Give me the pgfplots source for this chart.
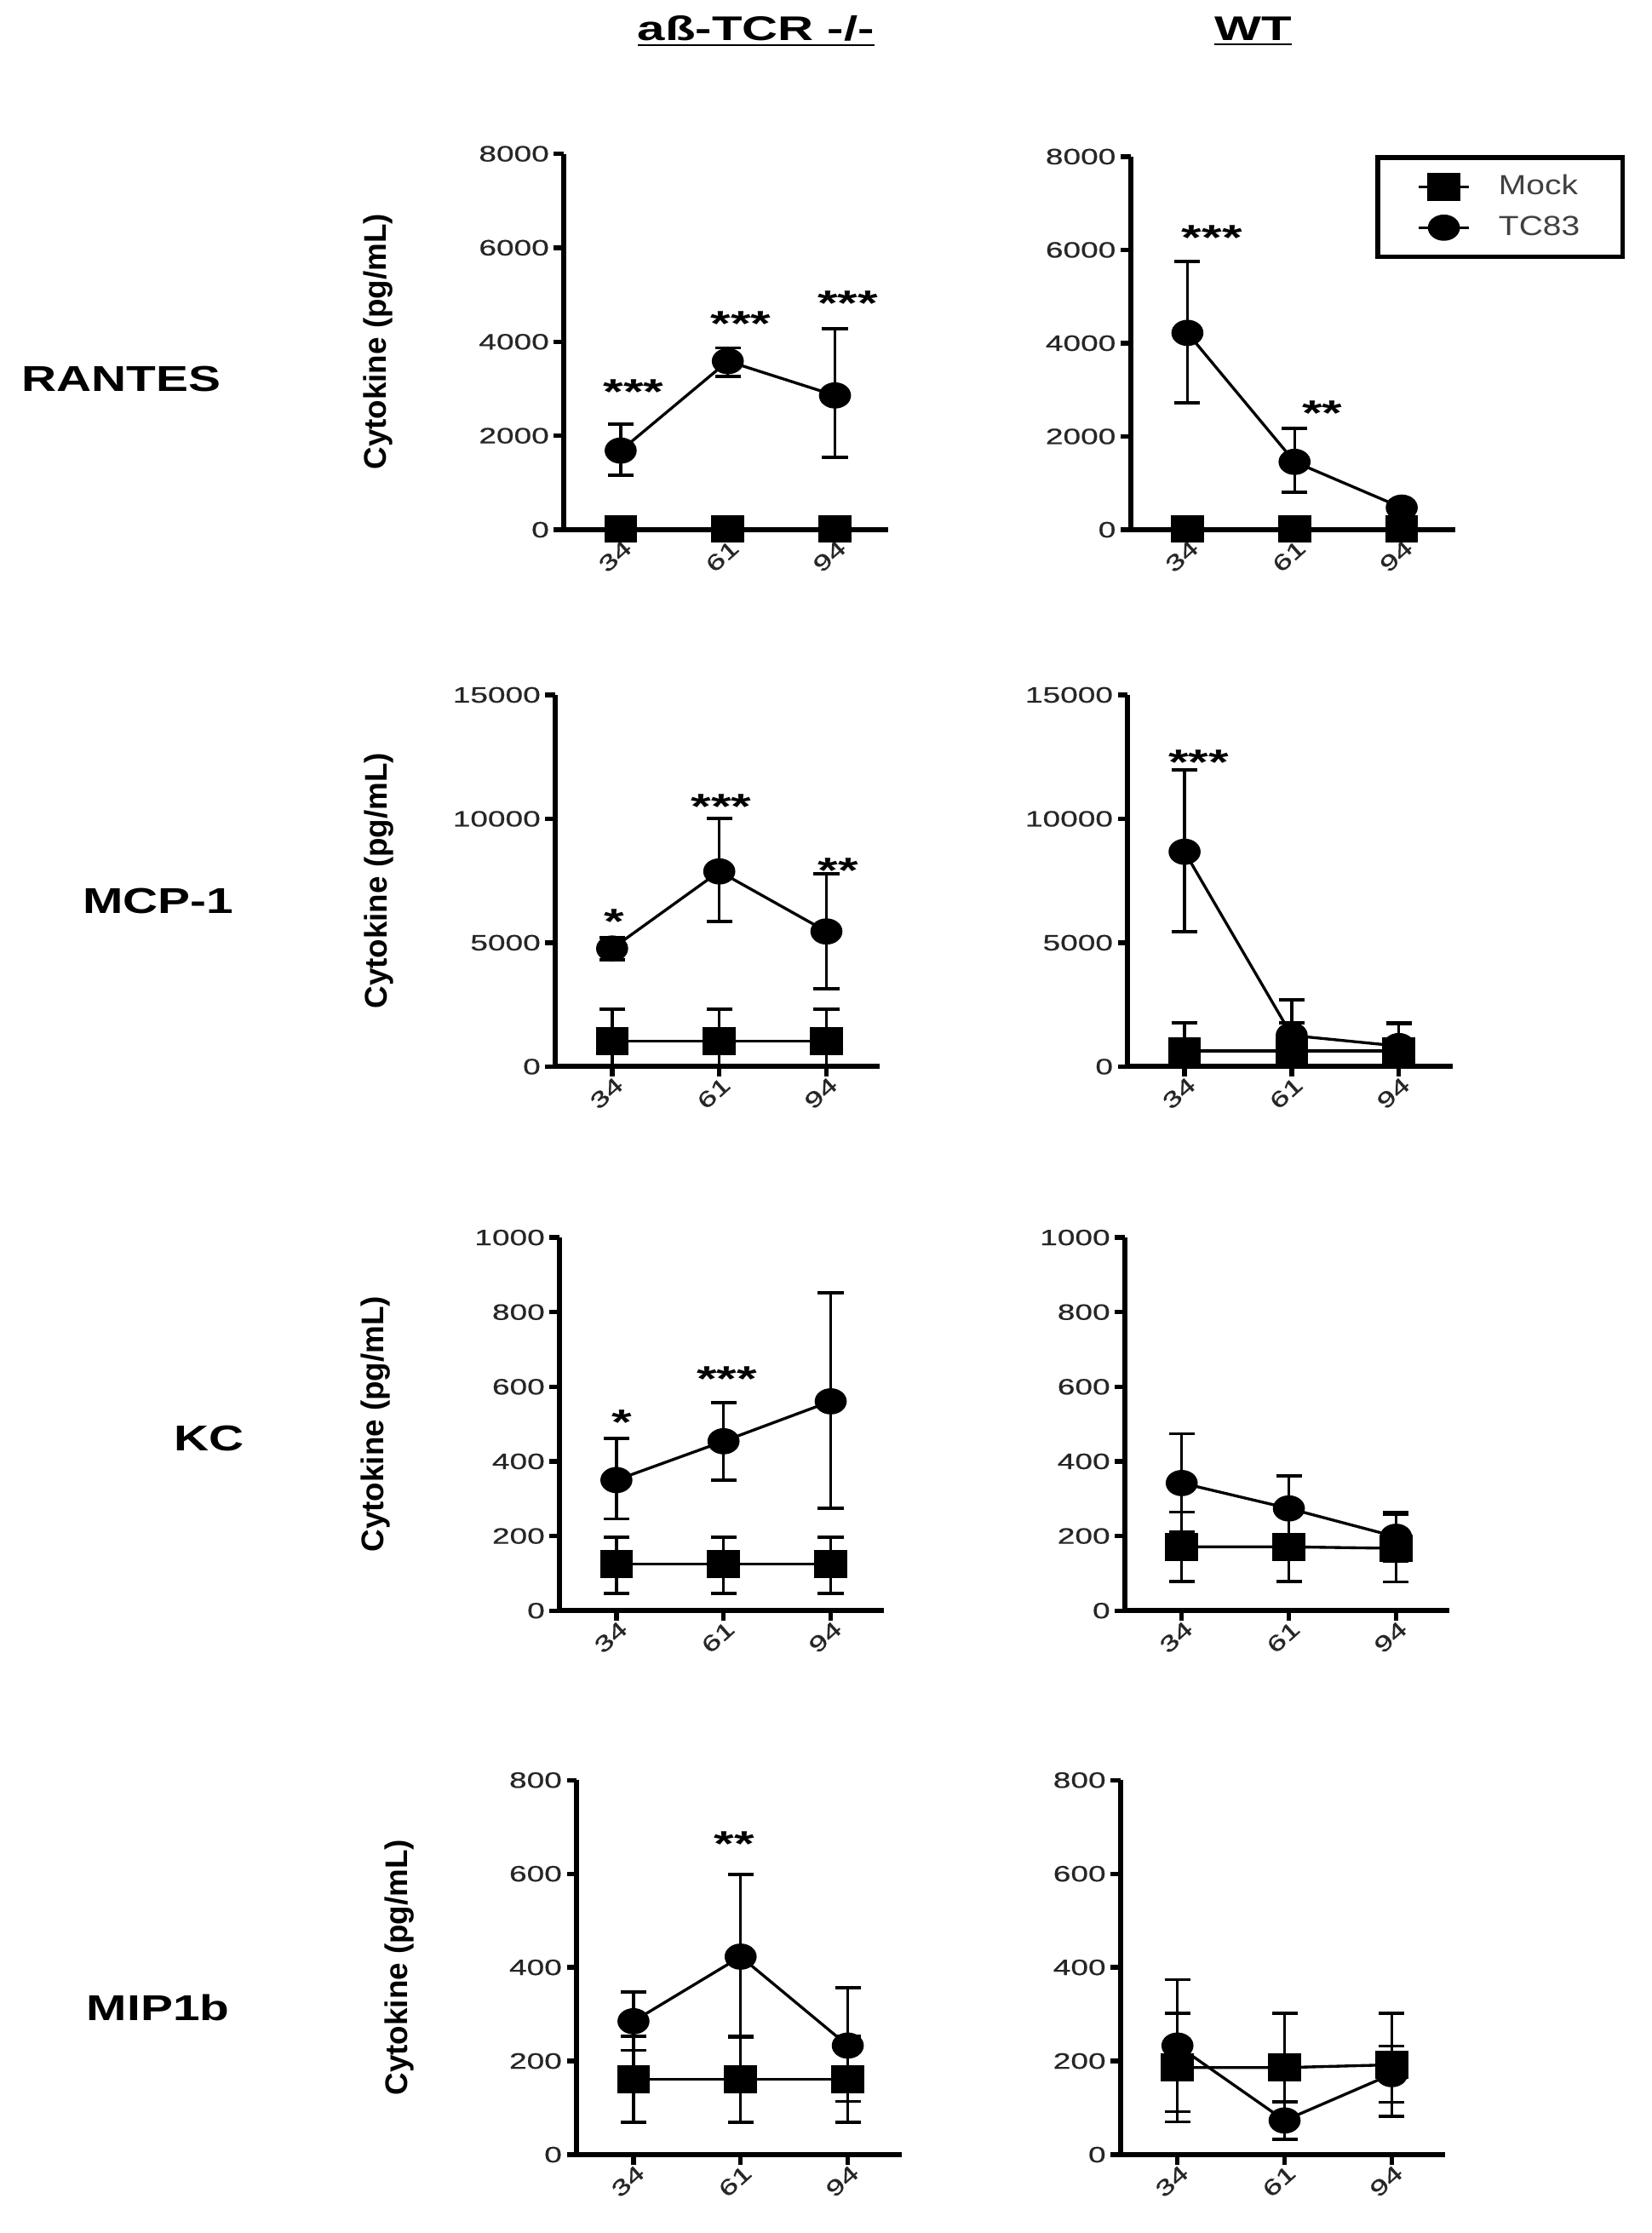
\documentclass[border=0pt]{standalone}
\usepackage{fontspec}
\usepackage{pgfplots}
\pgfplotsset{compat=1.18}
\setmainfont{Liberation Sans}
\newfontfamily\stretchfont{Liberation Sans}[FakeStretch=1.45]
\newfontfamily\tickfontfam{Liberation Sans}[FakeStretch=1.42, FakeBold=0.6]
\newfontfamily\rowfontfam{Liberation Sans}[FakeStretch=1.35]
\newfontfamily\legfontfam{Liberation Sans}[FakeStretch=1.2]
\newcommand\tickf{\tickfontfam\fontsize{7.8}{9}\selectfont}
\newcommand\titlef{\stretchfont\bfseries\fontsize{12}{14}\selectfont}
\newcommand\rowf{\rowfontfam\bfseries\fontsize{12.6}{15}\selectfont}
\newcommand\starf{\stretchfont\bfseries\fontsize{12.5}{14}\selectfont}
\newcommand\ylabf{\bfseries\fontsize{11}{13}\selectfont}
\newcommand\legf{\legfontfam\fontsize{9.7}{11}\selectfont}

\tikzset{sigstar/.style={anchor=north, inner sep=0pt, font=\starf}}
\pgfplotsset{
  cyt/.style={
    scale only axis, width=114pt,
    xmin=-0.53, xmax=2.5, ymin=0,
    axis lines*=left,
    axis line style={line width=1.8pt, black},
    xtick={0,1,2}, xticklabels={34,61,94},
    tick align=outside, major tick length=3.5pt,
    tick style={line width=1.6pt, black},
    minor tick num=0,
    xticklabel style={rotate=42, anchor=east, font=\tickf, text=black!85, inner sep=1pt, yshift=-3pt, xshift=2pt},
    yticklabel style={font=\tickf, text=black!85, inner sep=1.5pt},
    /pgf/number format/1000 sep={},
    /pgf/number format/assume math mode=true,
    scaled y ticks=false,
    clip=false,
    ylabel style={font=\ylabf, anchor=center},
  },
  eb/.style={
    error bars/y dir=both, error bars/y explicit,
    error bars/error bar style={line width=1pt, black},
    error bars/error mark options={rotate=90, mark size=4.5pt, line width=1.1pt, black},
  },
  mock/.style={black, line width=1pt, mark=square*, mark size=4.4pt,
    mark options={xscale=1.2, solid, fill=black}},
  tc/.style={black, line width=1pt, mark=*, mark size=4.1pt,
    mark options={xscale=1.25, solid, fill=black}},
}

\begin{document}
\begin{tikzpicture}
\useasboundingbox (0,0) rectangle (580pt,784pt);

\node[font=\titlef] at (265.5pt,773pt) {\underline{aß-TCR -/-}};
\node[font=\titlef] at (440pt,773pt) {\underline{WT}};
\node[font=\rowf] at (42.5pt,651pt) {RANTES};
\node[font=\rowf] at (55.5pt,467.5pt) {MCP-1};
\node[font=\rowf] at (73.5pt,279pt) {KC};
\node[font=\rowf] at (55.5pt,79pt) {MIP1b};

% ---------- RANTES, ab-TCR -/-
\begin{axis}[cyt, at={(198pt,598pt)}, anchor=south west, height=132pt,
  ymax=8000, ytick={0,2000,4000,6000,8000},
  ylabel={Cytokine (pg/mL)}, ylabel style={at={(axis description cs:-0.573,0.5)}}]
\addplot[mock] coordinates {(0,20) (1,20) (2,20)};
\addplot[tc, eb] coordinates {
  (0,1684) += (0,566) -= (0,526)
  (1,3587) += (0,283) -= (0,324)
  (2,2858) += (0,1417) -= (0,1320)};
\node[sigstar] at (axis cs:0.12,3200) {***};
\node[sigstar] at (axis cs:1.12,4650) {***};
\node[sigstar] at (axis cs:2.12,5100) {***};
\end{axis}

% ---------- RANTES, WT
\begin{axis}[cyt, at={(397pt,598pt)}, anchor=south west, height=131pt,
  ymax=8000, ytick={0,2000,4000,6000,8000},
  legend style={at={(rel axis cs:1.522,1.004)}, anchor=north east,
    draw=black, line width=1.6pt, inner xsep=14pt, inner ysep=5pt, row sep=4pt,
    nodes={inner sep=1pt, text=black!75, font=\legf},
    /tikz/every odd column/.append style={column sep=9pt}},
  legend cell align=left,
  legend image code/.code={\draw[mark repeat=2, mark phase=2, #1] plot coordinates {(0pt,0pt) (8.75pt,0pt) (17.5pt,0pt)};}]
\addplot[mock] coordinates {(0,20) (1,20) (2,20)};
\addlegendentry{Mock}
\addplot[tc, eb] coordinates {
  (0,4221) += (0,1529) -= (0,1497)
  (1,1456) += (0,720) -= (0,654)
  (2,474) += (0,150) -= (0,150)};
\addlegendentry{TC83}
\node[sigstar] at (axis cs:0.23,6540) {***};
\node[sigstar] at (axis cs:1.26,2780) {**};
\end{axis}

% ---------- MCP-1, ab-TCR -/-
\begin{axis}[cyt, at={(195pt,409.5pt)}, anchor=south west, height=130.5pt,
  ymax=15000, ytick={0,5000,10000,15000},
  ylabel={Cytokine (pg/mL)}, ylabel style={at={(axis description cs:-0.544,0.5)}}]
\addplot[mock, eb] coordinates {
  (0,1020) += (0,1297) -= (0,1020)
  (1,1020) += (0,1297) -= (0,1020)
  (2,1020) += (0,1297) -= (0,1020)};
\addplot[tc, eb] coordinates {
  (0,4766) += (0,437) -= (0,463)
  (1,7878) += (0,2145) -= (0,2012)
  (2,5455) += (0,2317) -= (0,2317)};
\node[sigstar] at (axis cs:0.02,6370) {*};
\node[sigstar] at (axis cs:1.02,11000) {***};
\node[sigstar] at (axis cs:2.11,8420) {**};
\end{axis}

% ---------- MCP-1, WT
\begin{axis}[cyt, at={(396pt,409.5pt)}, anchor=south west, height=130.5pt,
  ymax=15000, ytick={0,5000,10000,15000}]
\addplot[mock, eb] coordinates {
  (0,630) += (0,1150) -= (0,630)
  (1,630) += (0,1150) -= (0,630)
  (2,630) += (0,1150) -= (0,630)};
\addplot[tc, eb] coordinates {
  (0,8672) += (0,3310) -= (0,3217)
  (1,1260) += (0,1440) -= (0,1260)
  (2,830) += (0,900) -= (0,830)};
\node[sigstar] at (axis cs:0.13,12790) {***};
\end{axis}

% ---------- KC, ab-TCR -/-
\begin{axis}[cyt, at={(196.5pt,218.5pt)}, anchor=south west, height=131pt,
  ymax=1000, ytick={0,200,400,600,800,1000},
  ylabel={Cytokine (pg/mL)}, ylabel style={at={(axis description cs:-0.566,0.5)}}]
\addplot[mock, eb] coordinates {
  (0,125) += (0,72) -= (0,79)
  (1,125) += (0,72) -= (0,79)
  (2,125) += (0,72) -= (0,79)};
\addplot[tc, eb] coordinates {
  (0,350) += (0,112) -= (0,104)
  (1,454) += (0,104) -= (0,104)
  (2,561) += (0,291) -= (0,286)};
\node[sigstar] at (axis cs:0.05,540) {*};
\node[sigstar] at (axis cs:1.03,656) {***};
\end{axis}

% ---------- KC, WT
\begin{axis}[cyt, at={(395pt,218.5pt)}, anchor=south west, height=131pt,
  ymax=1000, ytick={0,200,400,600,800,1000}]
\addplot[mock, eb] coordinates {
  (0,171) += (0,93) -= (0,93)
  (1,171) += (0,93) -= (0,93)
  (2,167) += (0,90) -= (0,90)};
\addplot[tc, eb] coordinates {
  (0,342) += (0,132) -= (0,132)
  (1,274) += (0,87) -= (0,87)
  (2,198) += (0,65) -= (0,65)};
\end{axis}

% ---------- MIP1b, ab-TCR -/-
\begin{axis}[cyt, at={(202.5pt,27.5pt)}, anchor=south west, height=131.5pt,
  ymax=800, ytick={0,200,400,600,800},
  ylabel={Cytokine (pg/mL)}, ylabel style={at={(axis description cs:-0.546,0.5)}}]
\addplot[mock, eb] coordinates {
  (0,161) += (0,92) -= (0,92)
  (1,161) += (0,92) -= (0,92)
  (2,161) += (0,92) -= (0,92)};
\addplot[tc, eb] coordinates {
  (0,285) += (0,62) -= (0,62)
  (1,423) += (0,175) -= (0,173)
  (2,233) += (0,124) -= (0,119)};
\node[sigstar] at (axis cs:0.94,692) {**};
\end{axis}

% ---------- MIP1b, WT
\begin{axis}[cyt, at={(393.5pt,27.5pt)}, anchor=south west, height=131.5pt,
  ymax=800, ytick={0,200,400,600,800}]
\addplot[mock, eb] coordinates {
  (0,186) += (0,116) -= (0,116)
  (1,186) += (0,116) -= (0,116)
  (2,192) += (0,110) -= (0,110)};
\addplot[tc, eb] coordinates {
  (0,233) += (0,141) -= (0,141)
  (1,73) += (0,40) -= (0,40)
  (2,172) += (0,60) -= (0,60)};
\end{axis}
\end{tikzpicture}
\end{document}
